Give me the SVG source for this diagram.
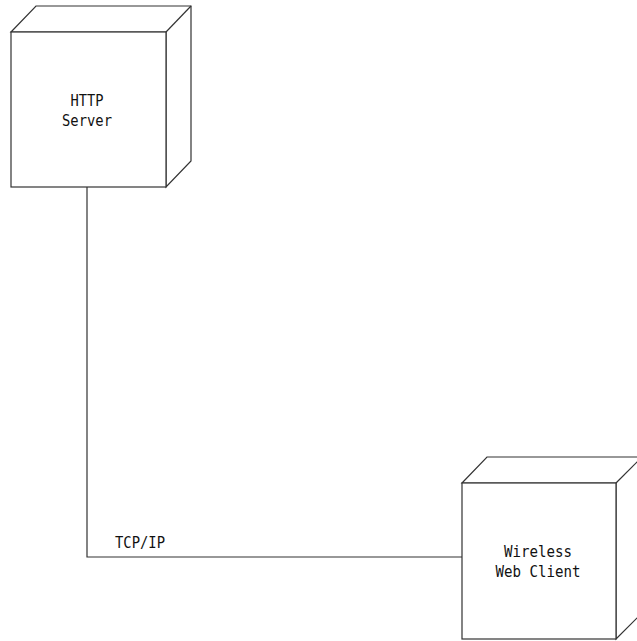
<svg xmlns="http://www.w3.org/2000/svg" width="637" height="641" viewBox="0 0 637 641">
<style>
.n{fill:#fff;stroke:#333;stroke-width:1.2}
.c{fill:none;stroke:#333;stroke-width:1.2}
text{font-family:"DejaVu Sans Mono","Liberation Mono",monospace;font-size:15px;fill:#111}
</style>
<rect width="637" height="641" fill="#fff"/>
<g id="connectors">
<path class="c" d="M87 187 V557 H462"/>
<text x="115" y="548" textLength="50" lengthAdjust="spacingAndGlyphs">TCP/IP</text>
</g>
<g id="http-server">
<path class="n" d="M11 32 L36 6 H191 V161 L166 187 V32 Z"/>
<path class="n" d="M166 32 L191 6"/>
<rect class="n" x="11" y="32" width="155" height="155"/>
<text x="87" y="106" text-anchor="middle" textLength="33" lengthAdjust="spacingAndGlyphs">HTTP</text>
<text x="87" y="126" text-anchor="middle" textLength="50" lengthAdjust="spacingAndGlyphs">Server</text>
</g>
<g id="wireless-client">
<path class="n" d="M462 483 L487 457 H642 V613 L616 639 V483 Z"/>
<path class="n" d="M616 483 L642 457"/>
<rect class="n" x="462" y="483" width="154" height="156"/>
<text x="538" y="557" text-anchor="middle" textLength="68" lengthAdjust="spacingAndGlyphs">Wireless</text>
<text x="538" y="577" text-anchor="middle" textLength="85" lengthAdjust="spacingAndGlyphs">Web Client</text>
</g>
</svg>
